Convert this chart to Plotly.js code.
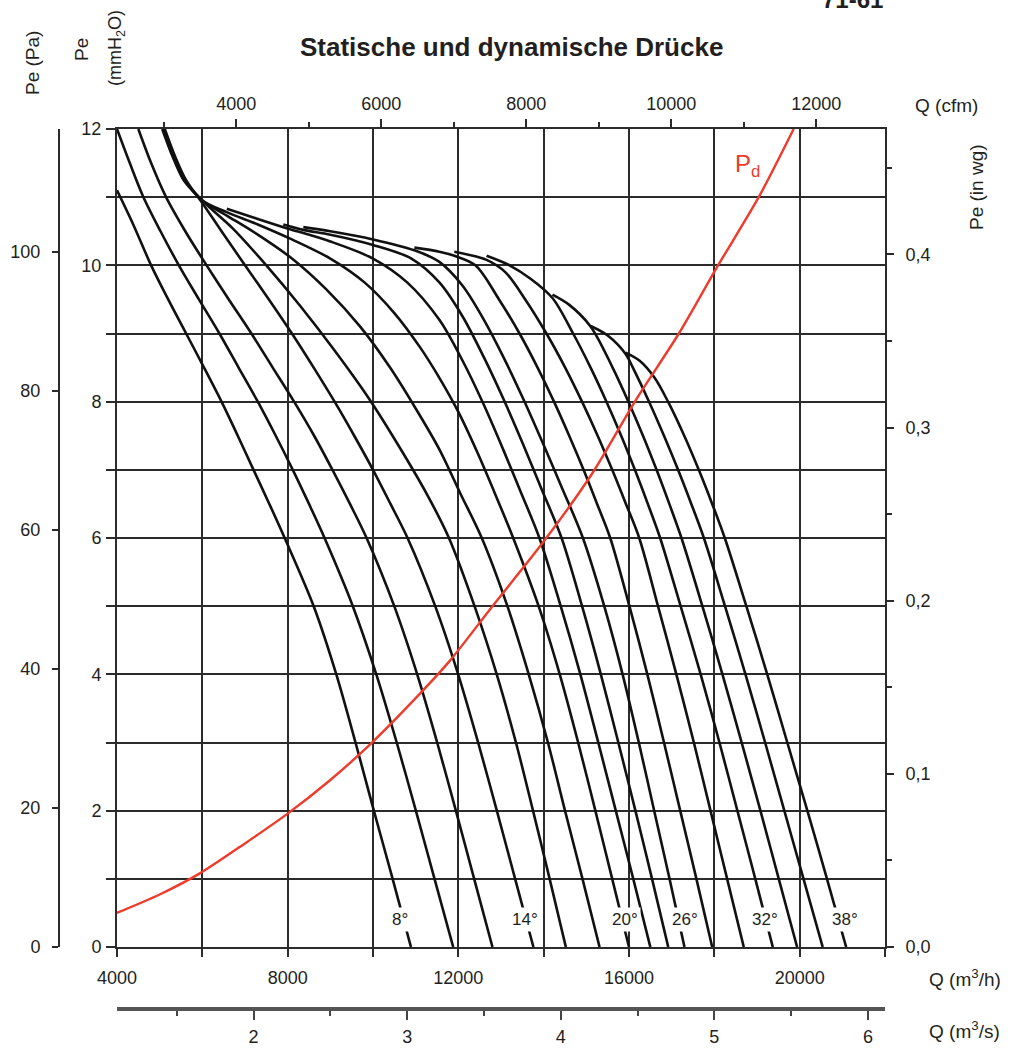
<!DOCTYPE html>
<html><head><meta charset="utf-8">
<script src="https://cdn.plot.ly/plotly-3.0.1.min.js"></script>
<style>html,body{margin:0;padding:0;background:#fff}#chart{width:1017px;height:1050px}</style>
</head><body><div id="chart"></div>
<script>
// ---------- DATA ----------
const angleLabels = ['8°','14°','20°','26°','32°','38°'];
const angleLabelQ = [10643, 13567, 15906, 17309, 19180, 21051];
const angleLabelPe = [0.41, 0.41, 0.41, 0.41, 0.41, 0.41];

const q08 = [4000,4380,4800,5200,5620,6040,6450,6830,7200,7570,7930,8610,9140,9590,10020,10460,10890];
const p08 = [11.1,10.6,10,9.5,9,8.5,8,7.5,7,6.5,6,5,4,3,2,1,0];
const q10 = [4000,4300,4620,5020,5450,5920,6400,6850,7300,7720,8120,8500,8865,9527,10077,10556,11004,11442,11880];
const p10 = [12,11.5,11,10.5,10,9.5,9,8.5,8,7.5,7,6.5,6,5,4,3,2,1,0];
const q12 = [4500,4800,5150,5600,6100,6620,7150,7650,8150,8620,9050,9460,9850,10498,11036,11504,11942,12371,12800];
const p12 = [12,11.5,11,10.5,10,9.5,9,8.5,8,7.5,7,6.5,6,5,4,3,2,1,0];
const q14 = [5060,5300,5560,5900,6450,7000,7560,8100,8610,9100,9560,10000,10410,10810,11458,11996,12464,12902,13331,13760];
const p14 = [12,11.6,11.25,11,10.5,10,9.5,9,8.5,8,7.5,7,6.5,6,5,4,3,2,1,0];
const q16 = [5080,5320,5580,6000,6700,7500,8300,9100,9900,10700,11300,11780,12380,12900,13350,13750,14140,14520];
const p16 = [12,11.6,11.25,10.95,10.55,10,9.4,8.75,8.05,7.25,6.6,6,5,4,3,2,1,0];
const q18 = [5100,5340,5600,6000,6573,7300,8100,8900,9700,10400,11000,11555,12050,12550,13150,13650,14100,14500,14910,15310];
const p18 = [12,11.6,11.25,10.95,10.73,10.45,10.1,9.65,9.1,8.5,7.9,7.3,6.65,6,5,4,3,2,1,0];
const q20 = [5120,5360,5620,6000,6573,7300,8100,9000,9800,10500,11100,11555,12000,12450,12880,13286,13882,14377,14808,15211,15606,16000];
const p20 = [12,11.6,11.25,10.95,10.78,10.6,10.38,10.1,9.75,9.3,8.8,8.35,7.85,7.25,6.62,6,5,4,3,2,1,0];
const q22 = [6573,7300,7898,9000,10000,10800,11555,12100,12600,13050,13480,13900,14400,14860,15280,15690,16100,16500];
const p22 = [10.83,10.68,10.56,10.35,10.1,9.75,9.2,8.6,7.95,7.3,6.65,6,5,4,3,2,1,0];
const q24 = [7898,8367,9000,10000,10900,11555,12100,12600,13050,13500,13950,14420,14900,15340,15750,16150,16540,16920];
const p24 = [10.6,10.52,10.45,10.3,10.1,9.75,9.25,8.65,8.05,7.4,6.72,6,5,4,3,2,1,0];
const q26 = [8367,9000,10000,10971,11555,12100,12600,13060,13515,13975,14440,14920,15420,15850,16230,16590,16950,17300];
const p26 = [10.56,10.5,10.38,10.22,10.05,9.7,9.2,8.65,8.05,7.4,6.72,6,5,4,3,2,1,0];
const q28 = [10971,11555,11906,12400,12953,13434,13857,14242,14598,14935,15252,15560,16010,16430,16820,17200,17580,17950];
const p28 = [10.26,10.2,10.14,10,9.5,9,8.5,8,7.5,7,6.5,6,5,4,3,2,1,0];
const q30 = [11906,12662,13100,13568,14065,14504,14899,15265,15606,15928,16240,16680,17110,17520,17910,18300,18690];
const p30 = [10.2,10.08,9.9,9.5,9,8.5,8,7.5,7,6.5,6,5,4,3,2,1,0];
const q32 = [12662,13200,13700,14206,14690,15100,15472,15817,16138,16441,16730,17210,17680,18120,18540,18960,19370];
const p32 = [10.14,10,9.8,9.52,9,8.5,8,7.5,7,6.5,6,5,4,3,2,1,0];
const q34 = [14206,14600,15103,15616,15986,16328,16646,16945,17230,17720,18190,18640,19080,19510,19940];
const p34 = [9.57,9.42,9.1,8.5,8,7.5,7,6.5,6,5,4,3,2,1,0];
const q36 = [15103,15500,15920,16090,16470,16820,17150,17460,17755,18250,18730,19190,19640,20090,20540];
const p36 = [9.11,8.97,8.7,8.5,8,7.5,7,6.5,6,5,4,3,2,1,0];
const q38 = [15920,16250,16600,16915,17295,17635,17950,18245,18750,19240,19710,20180,20640,21090];
const p38 = [8.72,8.6,8.35,8,7.5,7,6.5,6,5,4,3,2,1,0];

const pdQ = [4000,5000,5941,7000,8007,9000,9995,11000,11789,12800,13990,15141,16156,17169,18060,19040,19859];
const pdPe = [0.50,0.77,1.08,1.52,1.96,2.45,3.01,3.65,4.19,5.0,5.94,6.95,8.02,9.0,9.97,11.0,12.0];

const xTickVals = [4000,8000,12000,16000,20000];
const xTickText = ['4000','8000','12000','16000','20000'];
const yTickVals = [0,2,4,6,8,10,12];
const yTickText = ['0','2','4','6','8','10','12'];
const paTickVals = [0,20,40,60,80,100];
const paTickText = ['0','20','40','60','80','100'];
const cfmTickVals = [4000,6000,8000,10000,12000];
const cfmTickText = ['4000','6000','8000','10000','12000'];
const m3sTickVals = [2,3,4,5,6];
const m3sTickText = ['2','3','4','5','6'];
const inwgTickVals = [0,0.1,0.2,0.3,0.4];
const inwgTickText = ['0,0','0,1','0,2','0,3','0,4'];

// unit conversions
const M3H_PER_CFM = 1.699;
const M3H_PER_M3S = 3600;
const PA_PER_MM = 9.80665;
const MM_PER_INWG = 25.4;
const X_MIN = 4000, X_MAX = 22000, Y_MIN = 0, Y_MAX = 12;

// ---------- LAYOUT helpers ----------
const L = 59, R = 885, T = 129, B = 1008;
const px = x => (x - L) / (R - L);
const py = y => (B - y) / (B - T);

const FONT = 'Liberation Sans, Arial, sans-serif';
const INK = '#231f20';
const GRID = '#2b2b2b';
const RED = '#ee3b2b';

const curves = [[q08,p08],[q10,p10],[q12,p12],[q14,p14],[q16,p16],[q18,p18],[q20,p20],[q22,p22],
  [q24,p24],[q26,p26],[q28,p28],[q30,p30],[q32,p32],[q34,p34],[q36,p36],[q38,p38]];

const data = curves.map(c => ({
  x: c[0], y: c[1], mode: 'lines', type: 'scatter', xaxis: 'x', yaxis: 'y',
  line: {color: '#111', width: 2.6, shape: 'spline', smoothing: 0.9}, hoverinfo: 'skip'
}));
data.push({x: pdQ, y: pdPe, mode: 'lines', type: 'scatter', xaxis: 'x', yaxis: 'y',
  line: {color: RED, width: 2.4, shape: 'spline', smoothing: 0.8}, hoverinfo: 'skip'});
// invisible carriers for secondary axes
data.push({x: [X_MIN / M3H_PER_CFM, X_MAX / M3H_PER_CFM], y: [Y_MIN, Y_MAX], xaxis: 'x2', yaxis: 'y', mode: 'lines', opacity: 0, hoverinfo: 'skip'});
data.push({x: [X_MIN / M3H_PER_M3S, X_MAX / M3H_PER_M3S], y: [Y_MIN, Y_MAX], xaxis: 'x3', yaxis: 'y', mode: 'lines', opacity: 0, hoverinfo: 'skip'});
data.push({x: [X_MIN, X_MAX], y: [Y_MIN * PA_PER_MM, Y_MAX * PA_PER_MM], xaxis: 'x', yaxis: 'y2', mode: 'lines', opacity: 0, hoverinfo: 'skip'});
data.push({x: [X_MIN, X_MAX], y: [Y_MIN / MM_PER_INWG, Y_MAX / MM_PER_INWG], xaxis: 'x', yaxis: 'y3', mode: 'lines', opacity: 0, hoverinfo: 'skip'});

const tickFont = {family: FONT, size: 18, color: INK};
const xDom = [px(117), 1];
const yDom = [py(947), 1];

function ann(text, x, y, size, extra) {
  return Object.assign({text: text, x: px(x), y: py(y), xref: 'paper', yref: 'paper', showarrow: false,
    xanchor: 'center', yanchor: 'middle', font: {family: FONT, size: size, color: INK}}, extra || {});
}

const annotations = [
  ann('<b>Statische und dynamische Drücke</b>', 511, 47, 26),
  ann('<b>71-61</b>', 852, 15, 24, {yanchor: 'bottom'}),
  ann('Pe (Pa)', 32, 63, 19, {textangle: -90}),
  ann('Pe', 81, 50, 19, {textangle: -90}),
  ann('(mmH<sub>2</sub>O)', 117, 48, 18, {textangle: -90}),
  ann('Pe (in wg)', 976, 187, 19, {textangle: -90}),
  ann('Q (cfm)', 947, 105, 19),
  ann('Q (m<sup>3</sup>/h)', 965, 978, 19),
  ann('Q (m<sup>3</sup>/s)', 965, 1030, 19),
  ann('P<sub>d</sub>', 747, 165, 24, {font: {family: FONT, size: 24, color: RED}})
];

angleLabels.forEach((t, i) => annotations.push({
  text: t, x: angleLabelQ[i], y: angleLabelPe[i], xref: 'x', yref: 'y', showarrow: false,
  xanchor: 'center', yanchor: 'middle',
  bgcolor: '#ffffff', borderpad: 2, font: {family: FONT, size: 17, color: INK}
}));

const layout = {
  width: 1017, height: 1050,
  margin: {l: L, r: 1017 - R, t: T, b: 1050 - B, pad: 0},
  paper_bgcolor: '#fff', plot_bgcolor: '#fff', showlegend: false,
  font: {family: FONT, color: INK},
  xaxis: {domain: xDom, anchor: 'y', range: [X_MIN, X_MAX], tickvals: xTickVals, ticktext: xTickText,
    ticks: 'outside', ticklen: 8, tickwidth: 2, tickcolor: GRID, ticklabelstandoff: 5,
    minor: {dtick: 2000, tick0: 4000, ticks: 'outside', ticklen: 8, tickwidth: 2, tickcolor: GRID,
      showgrid: true, gridcolor: GRID, gridwidth: 2},
    showgrid: true, gridcolor: GRID, gridwidth: 2, zeroline: false,
    showline: true, linecolor: GRID, linewidth: 2, tickfont: tickFont},
  yaxis: {domain: yDom, anchor: 'x', range: [Y_MIN, Y_MAX], tickvals: yTickVals, ticktext: yTickText,
    ticks: 'outside', ticklen: 9, tickwidth: 2, tickcolor: GRID, ticklabelstandoff: 1,
    minor: {dtick: 1, tick0: 0, ticks: 'outside', ticklen: 9, tickwidth: 2, tickcolor: GRID,
      showgrid: true, gridcolor: GRID, gridwidth: 2},
    showgrid: true, gridcolor: GRID, gridwidth: 2, zeroline: false,
    showline: true, linecolor: GRID, linewidth: 2, tickfont: tickFont},
  xaxis2: {overlaying: 'x', side: 'top', anchor: 'y', range: [X_MIN / M3H_PER_CFM, X_MAX / M3H_PER_CFM],
    tickvals: cfmTickVals, ticktext: cfmTickText, ticks: 'outside', ticklen: 8, tickwidth: 2, tickcolor: GRID, ticklabelstandoff: 2,
    minor: {dtick: 1000, tick0: 0, ticks: 'outside', ticklen: 5, tickwidth: 2, tickcolor: GRID, showgrid: false},
    showgrid: false, zeroline: false, showline: true, linecolor: GRID, linewidth: 2, tickfont: tickFont},
  xaxis3: {overlaying: 'x', anchor: 'free', position: 0, side: 'bottom',
    range: [X_MIN / M3H_PER_M3S, X_MAX / M3H_PER_M3S], tickvals: m3sTickVals, ticktext: m3sTickText,
    ticks: 'outside', ticklen: 9, tickwidth: 2, tickcolor: '#444', ticklabelstandoff: 2,
    minor: {dtick: 0.5, tick0: 0, ticks: 'outside', ticklen: 5, tickwidth: 2, tickcolor: '#444', showgrid: false},
    showgrid: false, zeroline: false, showline: true, linecolor: '#555', linewidth: 3.5, tickfont: tickFont},
  yaxis2: {overlaying: 'y', anchor: 'free', position: 0, side: 'left',
    range: [Y_MIN * PA_PER_MM, Y_MAX * PA_PER_MM], tickvals: paTickVals, ticktext: paTickText,
    ticks: 'outside', ticklen: 6, tickwidth: 2, tickcolor: GRID, ticklabelstandoff: 8,
    showgrid: false, zeroline: false, showline: true, linecolor: GRID, linewidth: 2, tickfont: tickFont},
  yaxis3: {overlaying: 'y', anchor: 'x', side: 'right',
    range: [Y_MIN / MM_PER_INWG, Y_MAX / MM_PER_INWG], tickvals: inwgTickVals, ticktext: inwgTickText,
    ticks: 'outside', ticklen: 7, tickwidth: 2, tickcolor: GRID, ticklabelstandoff: 8,
    minor: {dtick: 0.05, tick0: 0, ticks: 'outside', ticklen: 5, tickwidth: 2, tickcolor: GRID, showgrid: false},
    showgrid: false, zeroline: false, showline: true, linecolor: GRID, linewidth: 2, tickfont: tickFont},
  annotations: annotations
};

Plotly.newPlot('chart', data, layout, {staticPlot: true, displayModeBar: false});
</script>
</body></html>
